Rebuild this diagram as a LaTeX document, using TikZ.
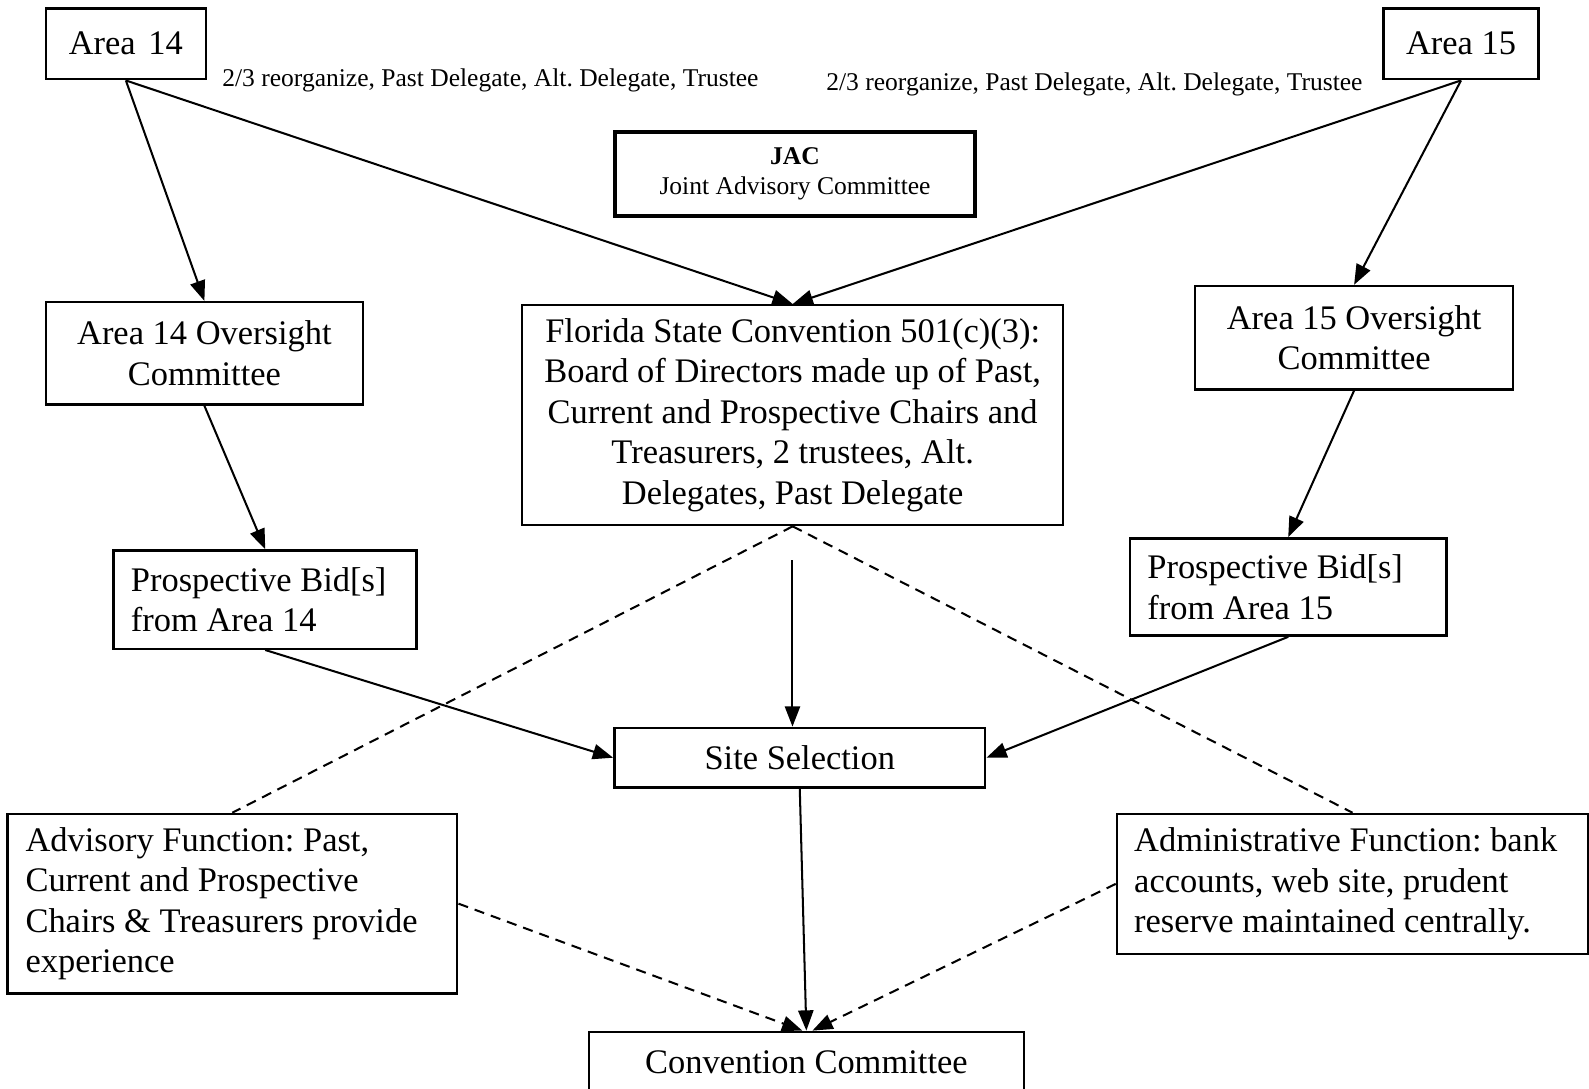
\documentclass[tikz,border=0pt]{standalone}
\usepackage{fontspec}
\setmainfont{Liberation Serif}
\usetikzlibrary{arrows.meta}
\newcommand\mytextL{\fontsize{17}{20}\selectfont\frenchspacing}
\newcommand\mytextS{\fontsize{12.6}{15}\selectfont\frenchspacing}
\begin{document}
\begin{tikzpicture}[x=0.5pt,y=-0.5pt,
  box/.style={draw, line width=1.2pt, inner sep=0pt, anchor=north west, font=\mytextL, align=center},
  lbox/.style={box, align=flush left},
  lbl/.style={inner sep=0pt, font=\mytextS, anchor=west},
  arr/.style={-{Triangle[length=10pt,width=7.5pt]}, line width=1pt},
  dsh/.style={dash pattern=on 5pt off 3.5pt, line width=1pt},
  dsharr/.style={dsh, -{Triangle[length=10pt,width=7.5pt]}}]
\useasboundingbox (0,0) rectangle (1568,1074);
\clip (0,0) rectangle (1568,1074);
\fill[white] (0,0) rectangle (1568,1074);

% boxes
\node[box, minimum width=79pt, minimum height=35pt] (a14) at (44,7) {Area\kern2pt\ 14};
\node[box, minimum width=76.5pt, minimum height=35pt] (a15) at (1364,7) {Area 15};
\node[box, line width=2pt, font=\mytextS, minimum width=177.5pt, minimum height=41.5pt] (jac) at (605,128) {\textbf{JAC}\\Joint Advisory Committee};
\node[box, minimum width=156.5pt, minimum height=50.5pt] (o14) at (44,297) {Area 14 Oversight\\Committee};
\node[box, minimum width=267pt, minimum height=108.5pt] (fl) at (514,300) {Florida State Convention 501(c)(3):\\Board of Directors made up of Past,\\Current and Prospective Chairs and\\Treasurers, 2 trustees, Alt.\\Delegates, Past Delegate};
\node[box, minimum width=157pt, minimum height=51pt] (o15) at (1178,281) {Area 15 Oversight\\Committee};
\node[lbox, inner xsep=8.5pt, text width=132.5pt, minimum height=48.5pt] (b14) at (111,542) {Prospective Bid[s]\\from Area 14};
\node[lbox, inner xsep=8.5pt, text width=139pt, minimum height=48pt] (b15) at (1114,530) {Prospective Bid[s]\\from Area 15};
\node[box, minimum width=183pt, minimum height=29.5pt] (site) at (605,717) {Site Selection};
\node[lbox, inner xsep=9pt, text width=204pt, minimum height=88.5pt] (adv) at (6,802) {Advisory Function: Past,\\Current and Prospective\\Chairs \& Treasurers provide\\experience};
\node[lbox, inner xsep=8.5pt, text width=215.5pt, minimum height=69pt] (adm) at (1101,802) {Administrative Function: bank\\accounts, web site, prudent\\reserve maintained centrally.};
\node[box, minimum width=214.5pt, minimum height=30pt] (conv) at (580,1017) {Convention Committee};

% labels
\node[lbl] (l1) at (219,79) {2/3 reorganize, Past Delegate, Alt. Delegate, Trustee};
\node[lbl] (l2) at (815,83) {2/3 reorganize, Past Delegate, Alt. Delegate, Trustee};

% solid arrows
\draw[arr] (a14.south) -- (o14.north);
\draw[arr] (a14.south) -- (fl.north);
\draw[arr] (a15.south) -- (fl.north);
\draw[arr] (a15.south) -- (o15.north);
\draw[arr] (o14.south) -- (b14.north);
\draw[arr] (o15.south) -- (b15.north);
\coordinate (fs) at (782,553);
\draw[arr] (fs) -- (fs |- site.north);
\draw[arr] (b14.south) -- (site.west);
\draw[arr] (b15.south) -- (site.east);
\draw[arr] (site.south) -- (conv.north);

% dashed
\draw[dsh] (fl.south) -- (adv.north);
\draw[dsh] (fl.south) -- (adm.north);
\draw[dsharr] (adv.east) -- ([xshift=-2pt]conv.north);
\draw[dsharr] (adm.west) -- ([xshift=3pt]conv.north);
\end{tikzpicture}
\end{document}
